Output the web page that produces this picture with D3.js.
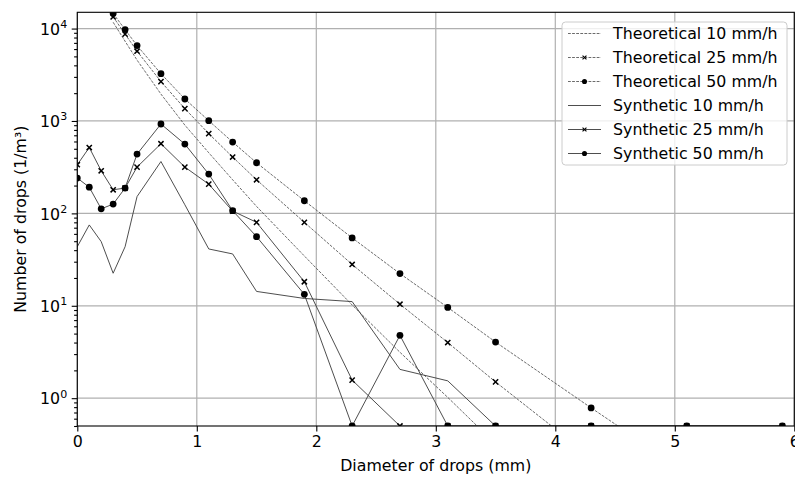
<!DOCTYPE html>
<html>
<head>
<meta charset="utf-8">
<script src="https://cdn.jsdelivr.net/npm/d3@7"></script>
<style>
  body { margin: 0; background: #fff; }
  svg { display: block; font-family: "DejaVu Sans", sans-serif; }
</style>
</head>
<body>
<div id="chart"></div>
<script>
// drop diameters (mm) of the size classes
let diam = [0, 0.1, 0.2, 0.3, 0.4, 0.5, 0.7, 0.9, 1.1, 1.3, 1.5, 1.9, 2.3, 2.7, 3.1, 3.5, 4.3, 5.1, 5.9]
let diamTheo = [0.3, 0.4, 0.5, 0.7, 0.9, 1.1, 1.3, 1.5, 1.9, 2.3, 2.7, 3.1, 3.5, 4.3, 5.1, 5.9]

// theoretical curves (1/m3)
let theo10 = [11700, 7290, 4560, 1955, 902, 453, 231, 119, 34.6, 10.2, 3.14, 1.02, 0.32, 0.035, 0.004, 0.0005]
let theo25 = [13400, 8710, 5690, 2670, 1360, 730, 407, 231, 80, 28, 10.4, 4.0, 1.5, 0.23, 0.037, 0.006]
let theo50 = [14550, 9750, 6540, 3250, 1730, 1007, 591, 353, 137, 54.3, 22.3, 9.6, 4.05, 0.785, 0.157, 0.032]

// synthetic counts (empty classes sit on the lower limit 0.5)
let syn10 = [43.6, 75, 49.5, 22.5, 43.6, 152, 364, 124, 41.2, 36.4, 14.3, 12.0, 11.1, 2.05, 1.54, 0.5, 0.5, 0.5, 0.5]
let syn25 = [336, 516, 289, 180, 188, 317, 567, 317, 207, 106, 80, 18.2, 1.57, 0.5, 0.5, 0.5, 0.5, 0.5, 0.5]
let syn50 = [241, 192, 112, 126, 188, 438, 927, 562, 266, 107, 56, 13.3, 0.5, 4.79, 0.5, 0.5, 0.5, 0.5, 0.5]

let xTicks = [0, 1, 2, 3, 4, 5, 6]
let yTicks = [1, 10, 100, 1000, 10000]

let width = 795
let height = 477
let pLeft = 77.3, pRight = 794.3, pTop = 12.3, pBottom = 426
let fontSize = 15.8
let lineColor = "#3a3a3a"

let svg = d3.select("#chart")
            .append("svg")
            .attr("width", width)
            .attr("height", height)

let xScale = d3.scaleLinear().domain([0, 6]).range([pLeft, pRight])
let yScale = d3.scaleLog().domain([0.5, 15000]).range([pBottom, pTop])

// grid
svg.append("g")
    .selectAll("line")
    .data(xTicks)
    .enter()
    .append("line")
    .attr("x1", d => xScale(d)).attr("x2", d => xScale(d))
    .attr("y1", pTop).attr("y2", pBottom)
    .attr("stroke", "#b0b0b0").attr("stroke-width", 1.2)

svg.append("g")
    .selectAll("line")
    .data(yTicks)
    .enter()
    .append("line")
    .attr("x1", pLeft).attr("x2", pRight)
    .attr("y1", d => yScale(d)).attr("y2", d => yScale(d))
    .attr("stroke", "#b0b0b0").attr("stroke-width", 1.2)

svg.append("clipPath").attr("id", "plotclip")
    .append("rect")
    .attr("x", pLeft).attr("y", pTop)
    .attr("width", pRight - pLeft).attr("height", pBottom - pTop)

let plot = svg.append("g").attr("clip-path", "url(#plotclip)")

function zip(xs, ys) { return xs.map((x, i) => [x, ys[i]]) }

let line = d3.line()
    .x(d => xScale(d[0]))
    .y(d => yScale(d[1]))

let series = [
    { name: "Theoretical 10 mm/h", x: diamTheo, y: theo10, dash: true, marker: null },
    { name: "Theoretical 25 mm/h", x: diamTheo, y: theo25, dash: true, marker: "x" },
    { name: "Theoretical 50 mm/h", x: diamTheo, y: theo50, dash: true, marker: "o" },
    { name: "Synthetic 10 mm/h", x: diam, y: syn10, dash: false, marker: null },
    { name: "Synthetic 25 mm/h", x: diam, y: syn25, dash: false, marker: "x" },
    { name: "Synthetic 50 mm/h", x: diam, y: syn50, dash: false, marker: "o" }
]

function drawMarker(g, type, cx, cy, s) {
    if (type == "o") {
        g.append("circle").attr("cx", cx).attr("cy", cy).attr("r", 3.4 * s).attr("fill", "#000")
    } else if (type == "x") {
        let h = 2.6 * s
        g.append("path")
            .attr("d", "M" + (cx - h) + "," + (cy - h) + "L" + (cx + h) + "," + (cy + h) +
                       "M" + (cx - h) + "," + (cy + h) + "L" + (cx + h) + "," + (cy - h))
            .attr("stroke", "#000").attr("stroke-width", 1.5 * s).attr("fill", "none")
    }
}

series.forEach(function(s) {
    let pts = zip(s.x, s.y)
    plot.append("path")
        .datum(pts)
        .attr("d", line)
        .attr("fill", "none")
        .attr("stroke", lineColor)
        .attr("stroke-width", s.dash ? 0.75 : 0.9)
        .attr("stroke-dasharray", s.dash ? "2.8,1.3" : null)
    if (s.marker) {
        let mg = plot.append("g")
        pts.forEach(function(p) {
            drawMarker(mg, s.marker, xScale(p[0]), yScale(p[1]), 1)
        })
    }
})

// axes
let xAxis = d3.axisBottom(xScale)
    .tickValues(xTicks)
    .tickSize(5.6)
    .tickPadding(4.5)
    .tickFormat(d3.format("d"))

let yAxis = d3.axisLeft(yScale)
    .tickValues(yTicks)
    .tickSize(5.6)
    .tickPadding(4.5)
    .tickFormat("")

let minor = []
for (let e = -1; e < 5; e++) {
    for (let m = 2; m < 10; m++) {
        let v = m * Math.pow(10, e)
        if (v >= 0.5 && v <= 15000) minor.push(v)
    }
}

let yMinor = d3.axisLeft(yScale)
    .tickValues(minor)
    .tickSize(3.2)
    .tickFormat("")

svg.append("g")
    .attr("class", "axis")
    .attr("transform", "translate(0," + pBottom + ")")
    .call(xAxis)

let yAxisG = svg.append("g")
    .attr("class", "axis")
    .attr("transform", "translate(" + pLeft + ",0)")
    .call(yAxis)

svg.append("g")
    .attr("class", "axis")
    .attr("transform", "translate(" + pLeft + ",0)")
    .call(yMinor)

svg.selectAll(".axis .domain").remove()
svg.selectAll(".axis line").attr("stroke", "#000").attr("stroke-width", 1.1)
svg.selectAll(".axis text")
    .attr("font-family", "DejaVu Sans")
    .attr("font-size", fontSize)
    .attr("fill", "#000")

// y labels as 10^n
yAxisG.selectAll(".tick").each(function(d) {
    let t = d3.select(this).select("text")
    t.attr("dy", "0.36em")
    t.append("tspan").text("10")
    t.append("tspan")
        .attr("dy", "-0.62em")
        .attr("font-size", fontSize * 0.7)
        .text(Math.round(Math.log10(d)))
})

// frame
svg.append("rect")
    .attr("x", pLeft).attr("y", pTop)
    .attr("width", pRight - pLeft).attr("height", pBottom - pTop)
    .attr("fill", "none").attr("stroke", "#000").attr("stroke-width", 1.1)

// axis titles
svg.append("text")
    .attr("x", (pLeft + pRight) / 2).attr("y", 471)
    .attr("text-anchor", "middle")
    .attr("font-size", fontSize)
    .text("Diameter of drops (mm)")

svg.append("text")
    .attr("transform", "translate(26," + ((pTop + pBottom) / 2) + ") rotate(-90)")
    .attr("text-anchor", "middle")
    .attr("font-size", fontSize)
    .text("Number of drops (1/m³)")

// legend
let legend = svg.append("g").attr("transform", "translate(562,22)")
legend.append("rect")
    .attr("width", 225).attr("height", 143)
    .attr("rx", 3.5)
    .attr("fill", "#fff").attr("fill-opacity", 0.8)
    .attr("stroke", "#cccccc").attr("stroke-width", 1)

series.forEach(function(s, i) {
    let y = 11.5 + i * 24
    legend.append("line")
        .attr("x1", 6).attr("x2", 39)
        .attr("y1", y).attr("y2", y)
        .attr("stroke", lineColor)
        .attr("stroke-width", s.dash ? 0.75 : 0.9)
        .attr("stroke-dasharray", s.dash ? "2.8,1.3" : null)
    if (s.marker) drawMarker(legend, s.marker, 22.5, y, 0.75)
    legend.append("text")
        .attr("x", 51).attr("y", y + 5.6)
        .attr("font-size", fontSize)
        .text(s.name)
})
</script>
</body>
</html>
